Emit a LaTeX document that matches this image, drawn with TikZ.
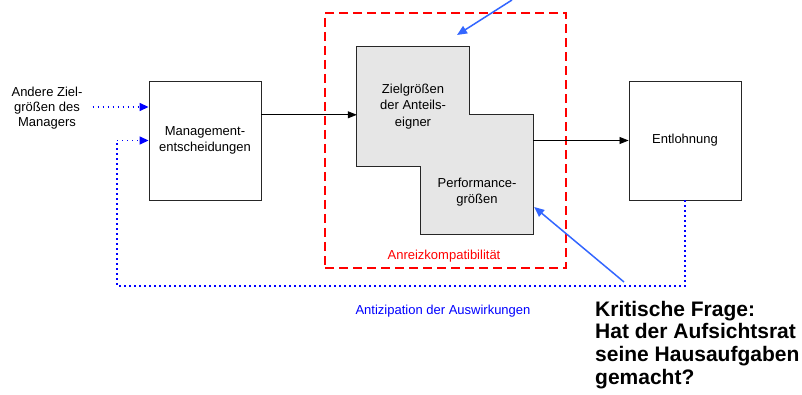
\documentclass[tikz,border=0pt]{standalone}
\usepackage{fontspec}
\setmainfont{Liberation Sans}
\usetikzlibrary{arrows.meta}
\definecolor{boxgray}{RGB}{230,230,230}
\definecolor{lblue}{RGB}{51,102,255}
\begin{document}
\begin{tikzpicture}[x=1pt,y=-1pt,
  txt/.style={font=\fontsize{13}{16.5}\selectfont, align=center, inner sep=0pt},
  plainbox/.style={draw=black!85, line width=0.9pt, minimum width=112pt, minimum height=119pt, inner sep=0pt, txt},
  graybox/.style={fill=boxgray, draw=none, minimum width=112pt, minimum height=119pt, inner sep=0pt},
  blackarrow/.style={draw=black, line width=0.8pt, -{Triangle[length=9pt,width=7pt]}},
  dotarrow/.style={draw=blue, line width=1.4pt, dash pattern=on 1.4pt off 3.6pt, -{Triangle[length=9pt,width=8pt]}},
  dotline/.style={draw=blue, line width=1.4pt, dash pattern=on 1.4pt off 3.6pt},
  bluearrow/.style={draw=lblue, line width=1.5pt, -{Triangle[length=10pt,width=8.5pt]}},
  redframe/.style={draw=red, line width=2pt, dash pattern=on 9pt off 5pt, minimum width=241pt, minimum height=255pt, inner sep=0pt}
]
\useasboundingbox (0,0) rectangle (802,395);

% red dashed frame
\node[redframe] (rf) at (445.5,140.5) {};
\node[txt, text=red] (rflab) at (444,256) {Anreizkompatibilität};

% boxes
\node[plainbox] (mg) at (205,140.5) {Management-\\entscheidungen};
\node[plainbox] (en) at (685,140.5) {Entlohnung};
\node[graybox] (zg) at (413,106.5) {};
\node[graybox] (pf) at (477,174.5) {};
\draw[draw=black!85, line width=0.9pt]
  (zg.north west) -- (zg.north east) -- (zg.east |- pf.north) -- (pf.north east)
  -- (pf.south east) -- (pf.south west) -- (pf.west |- zg.south) -- (zg.south west) -- cycle;
\node[txt] (zgt) at (413,106.5) {Zielgrößen\\der Anteils-\\eigner};
\node[txt] (pft) at (477,192) {Performance-\\größen};

% left label
\node[txt, font=\fontsize{13}{15.2}\selectfont] (an) at (47,108) {Andere Ziel-\\größen des\\Managers};

% connectors
\draw[blackarrow] (mg.east |- pf.north) -- (zg.west |- pf.north);
\draw[blackarrow] (pf.east |- en.west) -- (en.west);
\draw[dotarrow] ([xshift=10pt,yshift=1pt]an.east) -- ([yshift=1pt]an.east -| mg.west);

\coordinate (fbr) at (685,286);
\coordinate (fbl) at (117,286);
\draw[dotline] (en.south) -- (fbr) -- (fbl) -- (fbl |- mg.west);
\draw[dotarrow] (fbl |- mg.west) -- (mg.west);
\node[txt, text=blue] (anti) at (443,311) {Antizipation der Auswirkungen};

% critical question
\node[anchor=base west, align=left, inner sep=0pt, font=\fontsize{21}{22.8}\selectfont\bfseries] (kq) at (595,384.4)
  {Kritische Frage:\\Hat der Aufsichtsrat\\seine Hausaufgaben\\gemacht?};

% light blue arrows
\coordinate (tas) at (512,0);
\coordinate (tae) at (457,35);
\draw[bluearrow] (tas) -- (tae);
\coordinate (bas) at (624,282);
\draw[bluearrow] (bas) -- ([xshift=1pt,yshift=-32.5pt]pf.east);
\end{tikzpicture}
\end{document}
